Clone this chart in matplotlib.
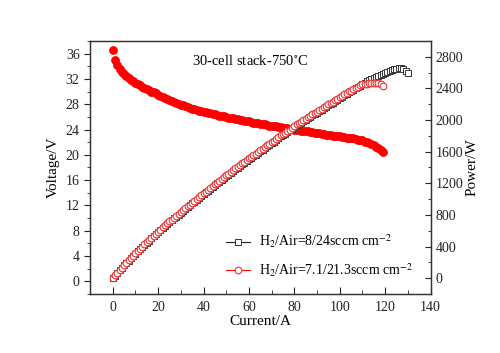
import numpy as np
import matplotlib
matplotlib.use("Agg")
import matplotlib.pyplot as plt
from matplotlib.ticker import MultipleLocator

plt.rcParams['font.family'] = ['Liberation Serif', 'DejaVu Serif']
plt.rcParams['mathtext.fontset'] = 'stix'

# red stack (7.1/21.3) : current / voltage / power
current_red = np.arange(0, 120)
voltage_red = [36.6, 35.0, 34.2, 33.6, 33.1, 32.7, 32.4, 32.1, 31.9, 31.6,
               31.4, 31.2, 31.0, 30.8, 30.6, 30.4, 30.2, 30.0, 29.9, 29.7,
               29.5, 29.3, 29.2, 29.0, 28.9, 28.7, 28.5, 28.4, 28.2, 28.1,
               27.9, 27.8, 27.7, 27.6, 27.4, 27.3, 27.2, 27.1, 27.0, 26.9,
               26.8, 26.7, 26.6, 26.6, 26.5, 26.4, 26.3, 26.2, 26.2, 26.1,
               26.0, 25.9, 25.8, 25.8, 25.7, 25.6, 25.5, 25.5, 25.4, 25.3,
               25.3, 25.2, 25.1, 25.0, 25.0, 24.9, 24.8, 24.8, 24.7, 24.6,
               24.6, 24.5, 24.5, 24.4, 24.4, 24.3, 24.2, 24.2, 24.1, 24.1,
               24.0, 24.0, 23.9, 23.8, 23.8, 23.7, 23.7, 23.6, 23.6, 23.5,
               23.4, 23.4, 23.3, 23.3, 23.2, 23.2, 23.1, 23.0, 23.0, 22.9,
               22.9, 22.8, 22.8, 22.7, 22.7, 22.6, 22.6, 22.5, 22.4, 22.4,
               22.3, 22.1, 22.0, 21.8, 21.7, 21.5, 21.3, 21.1, 20.8, 20.4]
power_red = [0, 35, 68, 101, 132, 164, 194, 225, 255, 284,
             314, 343, 372, 400, 428, 456, 483, 510, 538, 564,
             590, 615, 642, 667, 694, 718, 741, 767, 790, 815,
             837, 862, 886, 911, 932, 956, 979, 1003, 1026, 1049,
             1072, 1095, 1117, 1144, 1166, 1188, 1210, 1231, 1258, 1279,
             1300, 1321, 1342, 1367, 1388, 1408, 1428, 1454, 1473, 1493,
             1518, 1537, 1556, 1575, 1600, 1619, 1637, 1662, 1680, 1697,
             1722, 1740, 1764, 1781, 1806, 1823, 1839, 1863, 1880, 1904,
             1920, 1944, 1960, 1975, 1999, 2015, 2038, 2053, 2077, 2092,
             2106, 2129, 2144, 2167, 2181, 2204, 2218, 2231, 2254, 2267,
             2290, 2303, 2326, 2338, 2361, 2373, 2396, 2408, 2419, 2442,
             2453, 2456, 2462, 2465, 2472, 2474, 2472, 2467, 2454, 2428]

# black stack (8/24) : current / power
current_blk = np.arange(0, 131)
power_blk = [0, 34, 67, 99, 130, 161, 191, 221, 251, 280,
             309, 338, 366, 394, 422, 449, 476, 503, 530, 556,
             582, 607, 633, 658, 684, 708, 732, 757, 780, 805,
             828, 852, 876, 900, 922, 946, 969, 993, 1016, 1039,
             1062, 1085, 1107, 1133, 1155, 1177, 1199, 1221, 1246, 1268,
             1289, 1310, 1331, 1356, 1377, 1397, 1417, 1442, 1462, 1482,
             1506, 1526, 1545, 1564, 1588, 1607, 1626, 1650, 1668, 1686,
             1710, 1728, 1752, 1769, 1793, 1811, 1828, 1851, 1868, 1892,
             1908, 1931, 1948, 1964, 1987, 2003, 2026, 2041, 2064, 2080,
             2094, 2117, 2132, 2155, 2169, 2192, 2206, 2219, 2242, 2256,
             2278, 2292, 2314, 2328, 2350, 2364, 2385, 2400, 2418, 2436,
             2455, 2473, 2490, 2505, 2520, 2534, 2548, 2562, 2575, 2588,
             2600, 2611, 2622, 2632, 2640, 2647, 2652, 2655, 2650, 2625,
             2590]

label_blk = "H$_2$/Air=8/24sccm cm$^{-2}$"
label_red = "H$_2$/Air=7.1/21.3sccm cm$^{-2}$"

fig = plt.figure(figsize=(5, 3.53), dpi=100)
ax = fig.add_axes([0.18, 0.167, 0.681, 0.717])
ax2 = ax.twinx()

ax.plot(current_red, voltage_red, 'o', color='red', ms=5.3, mec='red')

ax2.plot(current_blk, power_blk, '-s', color='#222222', lw=0.8, ms=4.3,
         mfc='white', mec='#333333', mew=0.7, label=label_blk)
ax2.plot(current_red, power_red, '-o', color='red', lw=0.8, ms=4.8,
         mfc='white', mec='#ee3333', mew=0.8, label=label_red)

ax.set_xlim(-10, 140)
ax.set_ylim(-2, 38)
ax2.set_ylim(-200, 3000)

ax.xaxis.set_major_locator(MultipleLocator(20))
ax.xaxis.set_minor_locator(MultipleLocator(10))
ax.yaxis.set_major_locator(MultipleLocator(4))
ax.yaxis.set_minor_locator(MultipleLocator(2))
ax2.yaxis.set_major_locator(MultipleLocator(400))
ax2.yaxis.set_minor_locator(MultipleLocator(200))
ax2.set_yticks(np.arange(0, 2801, 400))

ax.tick_params(axis='y', which='both', direction='out', labelsize=10, colors='#222222')
ax.tick_params(axis='y', which='major', length=4)
ax.tick_params(axis='y', which='minor', length=2)
ax.tick_params(axis='x', which='both', direction='in', labelsize=10, colors='#222222', pad=5)
ax.tick_params(axis='x', which='major', length=5)
ax.tick_params(axis='x', which='minor', length=3)
ax2.tick_params(axis='y', which='both', direction='in', labelsize=10, colors='#222222')
ax2.tick_params(axis='y', which='major', length=4)
ax2.tick_params(axis='y', which='minor', length=2)

for a in (ax, ax2):
    for s in a.spines.values():
        s.set_color('#333333')
        s.set_linewidth(0.9)

ax.set_xlabel("Current/A", fontsize=11, labelpad=1)
ax.set_ylabel("Voltage/V", fontsize=11, labelpad=4)
ax2.set_ylabel("Power/W", fontsize=11, labelpad=2)

ax.text(0.47, 0.92, "30-cell stack-750$^{\\circ}$C", transform=ax.transAxes,
        ha='center', va='center', fontsize=10.5)

fig.legend(loc='center left', bbox_to_anchor=(0.452, 0.275), frameon=False,
           fontsize=10, handlelength=1.7, handletextpad=0.7,
           labelspacing=0.8, borderpad=0, borderaxespad=0)

fig.savefig("out.png", dpi=100)
